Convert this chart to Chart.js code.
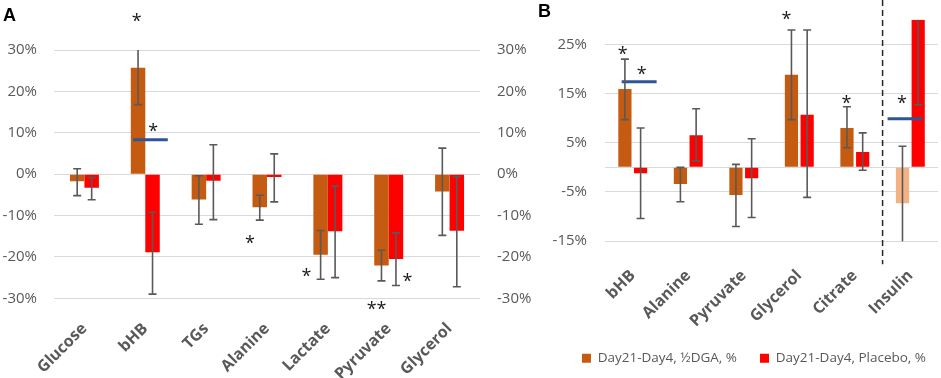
<!DOCTYPE html>
<html>
<head>
<meta charset="utf-8">
<script src="https://cdn.jsdelivr.net/npm/chart.js"></script>
<style>
  body { margin: 0; background: #fff; width: 941px; height: 378px; overflow: hidden; position: relative; }
  .panel { position: absolute; top: 0; height: 378px; }
  #panelA { left: 0; width: 540px; }
  #panelB { left: 530px; width: 411px; }
</style>
</head>
<body>
<div class="panel" id="panelA"><canvas id="chartA"></canvas></div>
<div class="panel" id="panelB"><canvas id="chartB"></canvas></div>
<script>
// panel A
const labelsA = ['Glucose', 'bHB', 'TGs', 'Alanine', 'Lactate', 'Pyruvate', 'Glycerol'];
const dgaA = [-1.7, 25.7, -6.1, -8.0, -19.5, -22.1, -4.2];
const placeboA = [-3.3, -18.9, -1.6, -0.7, -13.8, -20.5, -13.7];
const dgaHighA = [1.3, 33.0, -0.4, -5.1, -13.6, -18.4, 6.3];
const dgaLowA = [-5.2, 16.8, -12.1, -11.1, -25.4, -25.8, -14.8];
const placeboHighA = [-0.8, -9.2, 7.1, 4.9, -2.9, -14.2, -0.6];
const placeboLowA = [-6.2, -29.0, -11.0, -6.7, -25.0, -26.9, -27.2];
const ticksA = [-30, -20, -10, 0, 10, 20, 30];
const targetsA = [{cat: 1, value: 8.3, from: -0.2, to: 0.37}];
const starsA = [
  {cat: 1, value: 37.9, shift: -0.14, text: '*'},
  {cat: 1, value: 11.3, shift: 0.13, text: '*'},
  {cat: 3, value: -15.7, shift: -0.28, text: '*'},
  {cat: 4, value: -23.8, shift: -0.35, text: '*'},
  {cat: 5, value: -25.0, shift: 0.31, text: '*'},
  {cat: 5, value: -31.8, shift: -0.2, text: '**'}
];

// panel B
const labelsB = ['bHB', 'Alanine', 'Pyruvate', 'Glycerol', 'Citrate', 'Insulin'];
const dgaB = [15.9, -3.4, -5.6, 18.8, 8.0, -7.3];
const placeboB = [-1.2, 6.5, -2.2, 10.7, 3.1, 30];
const dgaHighB = [22.0, 0, 0.6, 27.9, 12.3, 4.3];
const dgaLowB = [9.7, -7.0, -12.0, 9.7, 4.0, -19.0];
const placeboHighB = [8.0, 11.9, 5.8, 27.9, 7.0, 48];
const placeboLowB = [-10.4, 1.3, -10.2, -6.1, -0.6, 12.7];
const ticksB = [-15, -5, 0, 5, 15, 25];
const targetsB = [
  {cat: 0, value: 17.4, from: -0.2, to: 0.43},
  {cat: 5, value: 9.9, from: -0.41, to: 0.21}
];
const starsB = [
  {cat: 0, value: 23.7, shift: -0.18, text: '*'},
  {cat: 0, value: 19.7, shift: 0.16, text: '*'},
  {cat: 3, value: 30.9, shift: -0.23, text: '*'},
  {cat: 4, value: 13.7, shift: -0.15, text: '*'},
  {cat: 5, value: 13.7, shift: -0.15, text: '*'}
];

const ORANGE = '#C55A11';
const RED = '#FF0000';
const PEACH = '#F4B183';

Chart.defaults.font.family = '"Open Sans", sans-serif';
Chart.defaults.color = '#595959';

// error bars, target lines, stars and the divider
const marksPlugin = {
  id: 'marks',
  afterLayout(chart, args, opts) {
    if (opts.legendShift && chart.legend) {
      chart.legend.left += opts.legendShift;
      chart.legend.right += opts.legendShift;
    }
  },
  afterDatasetsDraw(chart, args, opts) {
    const {ctx, chartArea: area} = chart;
    const x = chart.scales.x, y = chart.scales.y;
    const step = x.width / chart.data.labels.length;
    ctx.save();

    if (opts.divider != null) {
      const dx = (x.getPixelForValue(opts.divider - 1) + x.getPixelForValue(opts.divider)) / 2;
      ctx.strokeStyle = '#262626';
      ctx.lineWidth = 1.5;
      ctx.setLineDash([6, 4]);
      ctx.beginPath();
      ctx.moveTo(dx, 0);
      ctx.lineTo(dx, area.bottom + 23);
      ctx.stroke();
      ctx.setLineDash([]);
    }

    ctx.strokeStyle = '#2F5597';
    ctx.lineWidth = 3;
    opts.targets.forEach(t => {
      const cx = x.getPixelForValue(t.cat);
      const py = y.getPixelForValue(t.value);
      ctx.beginPath();
      ctx.moveTo(cx + t.from * step, py);
      ctx.lineTo(cx + t.to * step, py);
      ctx.stroke();
    });

    ctx.save();
    ctx.beginPath();
    ctx.rect(area.left, area.top, area.width, area.height);
    ctx.clip();
    ctx.strokeStyle = '#595959';
    ctx.lineWidth = 1.6;
    chart.data.datasets.forEach((ds, di) => {
      chart.getDatasetMeta(di).data.forEach((bar, i) => {
        const hi = y.getPixelForValue(ds.errHigh[i]);
        const lo = y.getPixelForValue(ds.errLow[i]);
        const bx = bar.x;
        ctx.beginPath();
        ctx.moveTo(bx, hi); ctx.lineTo(bx, lo);
        ctx.moveTo(bx - 4, hi); ctx.lineTo(bx + 4, hi);
        ctx.moveTo(bx - 4, lo); ctx.lineTo(bx + 4, lo);
        ctx.stroke();
      });
    });
    ctx.restore();

    ctx.fillStyle = '#1a1a1a';
    ctx.font = '18px "Open Sans"';
    ctx.textAlign = 'center';
    ctx.textBaseline = 'alphabetic';
    opts.stars.forEach(s => {
      const m = ctx.measureText(s.text);
      const cx = x.getPixelForValue(s.cat) + s.shift * step;
      const cy = y.getPixelForValue(s.value);
      ctx.fillText(s.text, cx, cy + (m.actualBoundingBoxAscent - m.actualBoundingBoxDescent) / 2);
    });
    ctx.restore();
  }
};

function valueAxis(tickValues, min, max, position, width, padding, showGrid) {
  return {
    type: 'linear',
    position: position,
    min: min,
    max: max,
    border: {display: false},
    grid: {display: showGrid, color: '#D9D9D9', drawTicks: false, lineWidth: 1},
    afterBuildTicks: s => { s.ticks = tickValues.map(v => ({value: v})); },
    afterFit: s => {
      s.width = width;
      s.paddingTop = 0;
      s.paddingBottom = 0;
    },
    ticks: {
      padding: padding,
      font: {size: 15},
      callback: v => (v === 0 && min === -15) ? '' : v + '%'
    }
  };
}

function categoryAxis(height, padding) {
  return {
    type: 'category',
    grid: {display: false},
    border: {display: false},
    afterFit: s => { s.height = height; },
    ticks: {
      autoSkip: false,
      minRotation: 45,
      maxRotation: 45,
      padding: padding,
      font: {size: 16, weight: 'bold'}
    }
  };
}

function panelTitle(text, top, bottom) {
  return {
    display: true,
    text: text,
    align: 'start',
    color: '#000',
    font: {family: '"Liberation Sans", Arial, sans-serif', size: 18, weight: 'bold', lineHeight: 0.8},
    padding: {top: top, bottom: bottom}
  };
}

new Chart(document.getElementById('chartA'), {
  type: 'bar',
  data: {
    labels: labelsA,
    datasets: [{
      label: 'Day21-Day4, ½DGA, %',
      data: dgaA,
      errHigh: dgaHighA,
      errLow: dgaLowA,
      backgroundColor: ORANGE
    }, {
      label: 'Day21-Day4, Placebo, %',
      data: placeboA,
      errHigh: placeboHighA,
      errLow: placeboLowA,
      backgroundColor: RED
    }]
  },
  options: {
    responsive: true,
    maintainAspectRatio: false,
    animation: false,
    layout: {padding: {left: 3, right: 0, top: 0, bottom: 0}},
    datasets: {bar: {barPercentage: 1, categoryPercentage: 0.476}},
    scales: {
      x: categoryAxis(79.7, 13),
      y: valueAxis(ticksA, -30, 30, 'left', 51, 17, true),
      y2: valueAxis(ticksA, -30, 30, 'right', 60, 17, false)
    },
    plugins: {
      legend: {display: false},
      tooltip: {enabled: false},
      title: panelTitle('A', 8.5, 27.1),
      marks: {targets: targetsA, stars: starsA, divider: null}
    }
  },
  plugins: [marksPlugin]
});

new Chart(document.getElementById('chartB'), {
  type: 'bar',
  data: {
    labels: labelsB,
    datasets: [{
      label: 'Day21-Day4, ½DGA, %',
      data: dgaB,
      errHigh: dgaHighB,
      errLow: dgaLowB,
      backgroundColor: labelsB.map(l => l === 'Insulin' ? PEACH : ORANGE)
    }, {
      label: 'Day21-Day4, Placebo, %',
      data: placeboB,
      errHigh: placeboHighB,
      errLow: placeboLowB,
      backgroundColor: RED
    }]
  },
  options: {
    responsive: true,
    maintainAspectRatio: false,
    animation: false,
    layout: {padding: {left: 8, right: 1, top: 0, bottom: 3}},
    datasets: {bar: {barPercentage: 0.84, categoryPercentage: 0.566}},
    scales: {
      x: categoryAxis(87.3, 17),
      y: valueAxis(ticksB, -15, 30, 'left', 67, 18, true)
    },
    plugins: {
      legend: {
        position: 'bottom',
        align: 'end',
        labels: {boxWidth: 9, boxHeight: 9, padding: 23, color: '#595959', font: {size: 13.5}}
      },
      tooltip: {enabled: false},
      title: panelTitle('B', 5.3, 0),
      marks: {targets: targetsB, stars: starsB, divider: 5, legendShift: 9}
    }
  },
  plugins: [marksPlugin]
});
</script>
</body>
</html>
